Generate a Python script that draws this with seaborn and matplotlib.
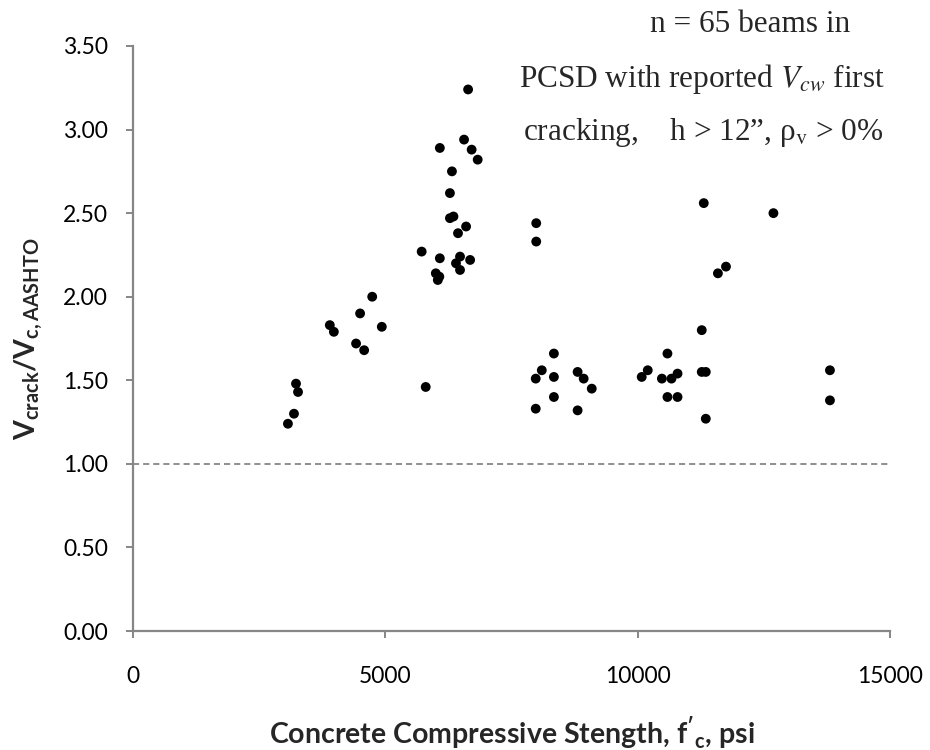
import matplotlib
matplotlib.use("Agg")
import matplotlib.pyplot as plt
import seaborn as sns
import pandas as pd

# ---- data ----
fc_psi = [4500, 3900, 3980, 4930, 4420, 4580, 3230, 3270, 3190, 3070, 5800, 4740,
          6560, 6080, 6710, 6830, 6320, 6280, 6350, 6280, 6600, 6440, 5720, 6080,
          6480, 6680, 6400, 6480, 6000, 6070, 6040,
          6640, 7990, 7990,
          8340, 8100, 7980, 8340, 8810, 8930, 9090, 8340, 7980, 8810,
          10200, 10080, 10590, 10480, 10670, 10790, 10590, 10790,
          11310, 12690, 11750, 11590, 11270, 11270, 11350, 13810, 13810, 11350]
ratio = [1.90, 1.83, 1.79, 1.82, 1.72, 1.68, 1.48, 1.43, 1.30, 1.24, 1.46, 2.00,
         2.94, 2.89, 2.88, 2.82, 2.75, 2.62, 2.48, 2.47, 2.42, 2.38, 2.27, 2.23,
         2.24, 2.22, 2.20, 2.16, 2.14, 2.12, 2.10,
         3.24, 2.44, 2.33,
         1.66, 1.56, 1.51, 1.52, 1.55, 1.51, 1.45, 1.40, 1.33, 1.32,
         1.56, 1.52, 1.66, 1.51, 1.51, 1.54, 1.40, 1.40,
         2.56, 2.50, 2.18, 2.14, 1.80, 1.55, 1.55, 1.56, 1.38, 1.27]
x_ticks = [0, 5000, 10000, 15000]
y_ticks = [0.0, 0.5, 1.0, 1.5, 2.0, 2.5, 3.0, 3.5]
ref_ratio = 1.0
note_lines = ["n = 65 beams in",
              "PCSD with reported $V_{cw}$ first",
              "cracking,    h > 12\u201d, \u03c1$_{\\mathrm{v}}$ > 0%"]

df = pd.DataFrame({"fc": fc_psi, "ratio": ratio})

sns.set_style("white")
plt.rcParams["font.family"] = ["Lato", "DejaVu Sans"]
plt.rcParams["mathtext.fontset"] = "custom"
plt.rcParams["mathtext.rm"] = "Lato"
plt.rcParams["mathtext.it"] = "Lato:italic"
plt.rcParams["mathtext.bf"] = "Lato:bold"

W, H = 930, 750
fig = plt.figure(figsize=(9.3, 7.5), dpi=100)
ax = fig.add_axes([133 / W, 1 - 631 / H, (890 - 133) / W, (631 - 46) / H])

sns.scatterplot(data=df, x="fc", y="ratio", ax=ax, color="black",
                s=50, edgecolor="none", linewidth=0, zorder=3, legend=False)

ax.axhline(ref_ratio, color="#868686", lw=1.3, dashes=(3.4, 2.2), zorder=1)

ax.set_xlim(0, 15000)
ax.set_ylim(0, 3.5)
ax.set_xticks(x_ticks)
ax.set_xticklabels([str(t) for t in x_ticks])
ax.set_yticks(y_ticks)
ax.set_yticklabels([f"{t:.2f}" for t in y_ticks])

gray = "#868686"
for side in ["top", "right"]:
    ax.spines[side].set_visible(False)
for side in ["left", "bottom"]:
    ax.spines[side].set_color(gray)
    ax.spines[side].set_linewidth(1.6)
ax.tick_params(axis="both", which="major", direction="out", length=5,
               width=1.4, color=gray, labelsize=16.5, labelcolor="black")
ax.tick_params(axis="y", pad=13)
ax.tick_params(axis="x", pad=20)
ax.tick_params(left=True, bottom=True)

ax.set_xlabel("Concrete Compressive Stength, $\\mathbf{f'_{c}}$, psi",
              fontsize=20.5, fontweight="bold", labelpad=20)
ax.set_ylabel("V$_{\\mathbf{crack}}$/V$_{\\mathbf{c,AASHTO}}$",
              fontsize=20.5, fontweight="bold", labelpad=13)

# annotation text (Times-like)
pos = [(650, 32), (519, 87), (523, 140)]
for (px, py), line in zip(pos, note_lines):
    fig.text(px / W, 1 - py / H, line, fontsize=22.5,
             family=["Liberation Serif", "DejaVu Serif"],
             math_fontfamily="stix", va="baseline", ha="left")

fig.savefig("out.png", dpi=100)
